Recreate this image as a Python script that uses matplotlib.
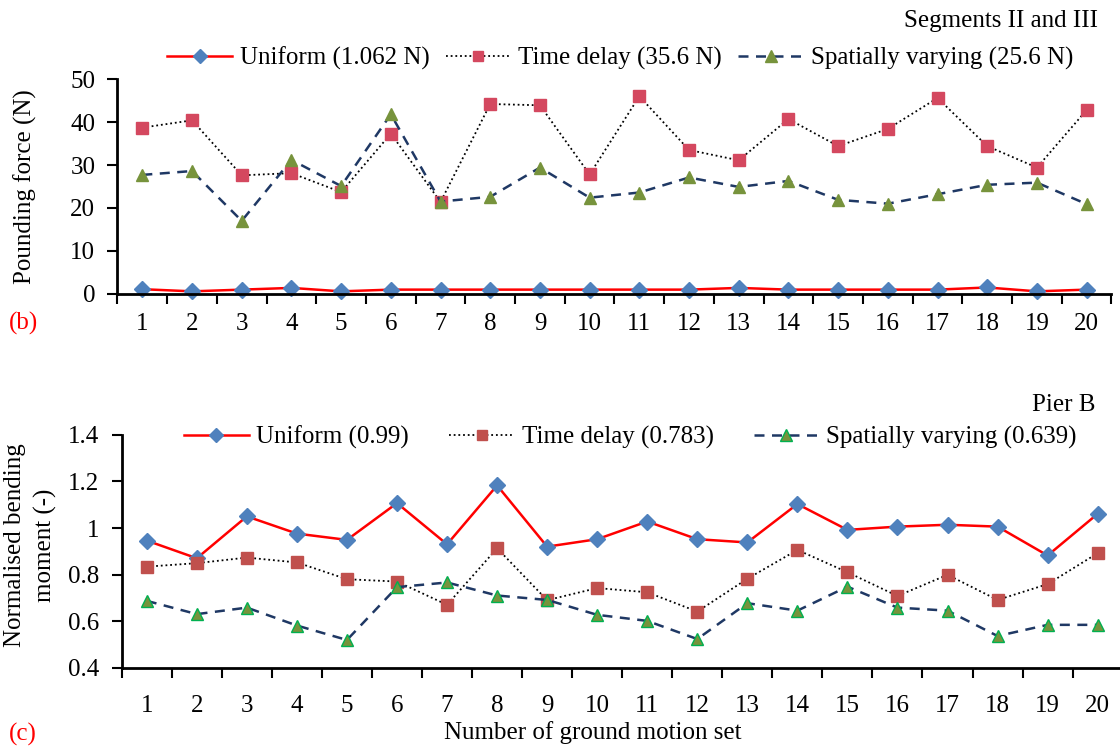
import matplotlib.pyplot as plt
import numpy as np

plt.rcParams['font.family'] = ['Liberation Serif', 'DejaVu Serif']

# ==== DATA ====
sets = list(range(1, 21))

# pounding force, segments II and III (N)
force_uniform = [1.1, 0.6, 1.0, 1.4, 0.6, 1.0, 1.0, 1.0, 1.0, 1.0,
                 1.0, 1.0, 1.4, 1.0, 1.0, 1.0, 1.0, 1.5, 0.6, 1.0]
force_delay = [38.7, 40.4, 27.6, 28.1, 23.7, 37.3, 21.4, 44.2, 43.9, 27.8,
               46.0, 33.5, 31.1, 40.7, 34.4, 38.4, 45.6, 34.4, 29.4, 42.8]
force_spatial = [27.7, 28.6, 17.0, 31.2, 25.1, 41.8, 21.5, 22.6, 29.4, 22.4,
                 23.6, 27.1, 24.9, 26.3, 21.9, 21.0, 23.2, 25.4, 25.9, 20.9]

# normalised bending moment, pier B
moment_uniform = [0.946, 0.870, 1.050, 0.976, 0.949, 1.107, 0.930, 1.183, 0.920, 0.952,
                  1.028, 0.952, 0.938, 1.103, 0.992, 1.006, 1.014, 1.006, 0.882, 1.061]
moment_delay = [0.834, 0.849, 0.873, 0.852, 0.780, 0.770, 0.670, 0.913, 0.690, 0.742,
                0.724, 0.641, 0.782, 0.906, 0.810, 0.708, 0.799, 0.691, 0.759, 0.892]
moment_spatial = [0.687, 0.630, 0.658, 0.581, 0.519, 0.746, 0.766, 0.710, 0.691, 0.627,
                  0.601, 0.523, 0.677, 0.645, 0.748, 0.658, 0.645, 0.536, 0.584, 0.584]

force_labels = ["Uniform (1.062 N)", "Time delay (35.6 N)", "Spatially varying (25.6 N)"]
moment_labels = ["Uniform (0.99)", "Time delay (0.783)", "Spatially varying (0.639)"]

FS = 18

fig = plt.figure(figsize=(11.2, 7.46), dpi=100)
ax1 = fig.add_axes([0.1049, 0.606, 0.8875, 0.288])
ax2 = fig.add_axes([0.1087, 0.105, 0.8937, 0.312])


def style_axes(ax, ylim, yticks, ytick_labels, xpad):
    ax.set_xlim(0.5, 20.5)
    ax.set_ylim(*ylim)
    ax.set_yticks(yticks)
    ax.set_yticklabels(ytick_labels)
    # category axis: ticks between sets, labels centred on sets
    ax.set_xticks(np.arange(0.5, 21, 1))
    ax.set_xticklabels([])
    ax.set_xticks(sets, minor=True)
    ax.set_xticklabels([str(s) for s in sets], minor=True)
    ax.tick_params(axis='x', which='major', direction='out', length=7, width=1.5)
    ax.tick_params(axis='x', which='minor', length=0, pad=xpad, labelsize=FS)
    ax.tick_params(axis='y', direction='out', length=7, width=1.5, pad=9, labelsize=FS)
    for s in ['top', 'right']:
        ax.spines[s].set_visible(False)
    for s in ['left', 'bottom']:
        ax.spines[s].set_linewidth(2)


def draw(ax, uni, delay, spatial, labels, sq_color, tri_edge):
    ax.plot(sets, uni, color='red', lw=1.8, marker='D', ms=8,
            mfc='#4F81BD', mec='#4F81BD', label=labels[0], clip_on=False)
    ax.plot(sets, delay, color='black', lw=1.3, ls=(0, (1, 1.6)), marker='s', ms=8,
            mfc=sq_color, mec=sq_color, label=labels[1], clip_on=False)
    ax.plot(sets, spatial, color='#1F3864', lw=1.8, ls=(0, (4, 3)), marker='^', ms=9,
            mfc='#77933C', mec=tri_edge, label=labels[2], clip_on=False)


# (b) pounding force
draw(ax1, force_uniform, force_delay, force_spatial, force_labels, '#D4485F', '#77933C')
style_axes(ax1, (0, 50), [0, 10, 20, 30, 40, 50], ['0', '10', '20', '30', '40', '50'], 14)
ax1.set_ylabel("Pounding force (N)", fontsize=FS)
ax1.yaxis.set_label_coords(-0.081, 0.5)
ax1.legend(loc='center', bbox_to_anchor=(0.5055, 1.098), ncol=3, frameon=False,
           fontsize=FS, handlelength=2.6, handletextpad=0.3, columnspacing=0.65,
           markerscale=0.9)
fig.text(0.98, 0.972, "Segments II and III", ha='right', va='center', fontsize=FS)
fig.text(0.008, 0.567, "(b)", color='red', ha='left', va='center', fontsize=FS)

# (c) bending moment
draw(ax2, moment_uniform, moment_delay, moment_spatial, moment_labels, '#C0504D', '#00B050')
style_axes(ax2, (0.4, 1.4), [0.4, 0.6, 0.8, 1.0, 1.2, 1.4],
           ['0.4', '0.6', '0.8', '1', '1.2', '1.4'], 20)
# two-line y label, each line centred on the same height
fig.text(0.0134, 0.2694, "Normalised bending", rotation=90, fontsize=FS,
         ha='center', va='center')
fig.text(0.0405, 0.2694, "moment (-)", rotation=90, fontsize=FS,
         ha='center', va='center')
ax2.set_xlabel("Number of ground motion set", fontsize=FS)
ax2.xaxis.set_label_coords(0.471, -0.228)
ax2.legend(loc='center', bbox_to_anchor=(0.508, 0.991), ncol=3, frameon=False,
           fontsize=FS, handlelength=2.6, handletextpad=0.3, columnspacing=1.6,
           markerscale=0.9)
fig.text(0.978, 0.457, "Pier B", ha='right', va='center', fontsize=FS)
fig.text(0.008, 0.016, "(c)", color='red', ha='left', va='center', fontsize=FS)

fig.savefig("out.png", dpi=100)
